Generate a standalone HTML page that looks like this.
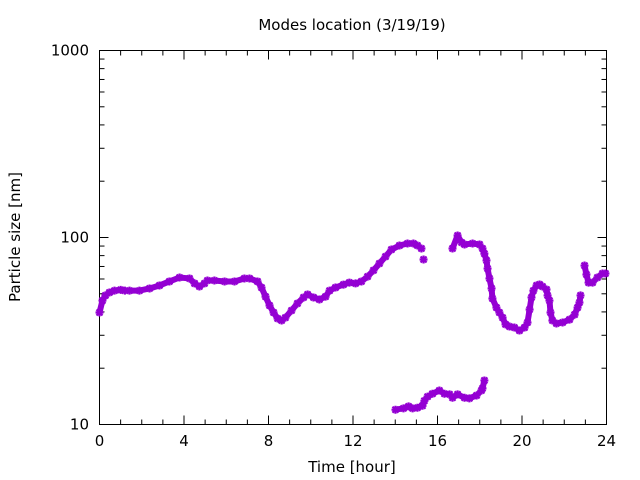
<!DOCTYPE html>
<html><head><meta charset="utf-8"><style>
html,body{margin:0;padding:0;background:#fff;}
svg{display:block;font-family:"DejaVu Sans","Liberation Sans",sans-serif;}
</style></head><body>
<svg id="chart" width="640" height="480" viewBox="0 0 640 480" xmlns="http://www.w3.org/2000/svg">
<rect width="640" height="480" fill="#fff"/>
<text x="352" y="30" font-size="15" text-anchor="middle">Modes location (3/19/19)</text>
<text x="352" y="472" font-size="15" text-anchor="middle">Time [hour]</text>
<text x="20" y="237" font-size="15" text-anchor="middle" transform="rotate(-90 20 237)">Particle size [nm]</text>
<g id="axes"></g>
<g id="marks"></g>
</svg>
<script>
const xTicks = [0,4,8,12,16,20,24];
const yTicks = [10,100,1000];
const seg1Hours = [0,0.14,0.28,0.47,0.71,1.0,1.2,1.42,1.89,2.37,2.84,3.31,3.79,4.26,4.5,4.73,4.97,5.11,5.44,5.92,6.39,6.86,7.1,7.48,7.67,7.86,8.05,8.24,8.43,8.62,8.8,9.09,9.37,9.66,9.85,10.13,10.41,10.7,10.89,11.17,11.55,11.83,12.12,12.4,12.69,12.97,13.25,13.54,13.82,14.2,14.58,14.86,15.05,15.24];
const seg1Sizes = [39.7,46,49,50.8,52,52.5,52,52,52,53.4,55.4,58.2,61.1,60.4,56.8,54.7,56.8,58.9,58.9,58.2,58.2,60.4,60.4,58.2,54,48.3,43.3,39.7,36.9,36,37.3,40.7,44.4,47.8,49.6,47.8,46.6,48.3,52,54,56,57.4,56.8,58.2,61.8,66.7,72.6,79.1,86.2,90.6,92.9,92.9,90.6,87.3];
const loneHours = [15.34];
const loneSizes = [76.3];
const seg2Hours = [16.71,16.95,17.14,17.28,17.66,17.99,18.13,18.22,18.32,18.37,18.46,18.56,18.6,18.79,18.93,19.08,19.22,19.41,19.64,19.88,20.12,20.26,20.36,20.45,20.54,20.69,20.83,20.97,21.16,21.21,21.3,21.35,21.44,21.63,21.92,22.25,22.49,22.63,22.72,22.77,22.96,23.05,23.15,23.34,23.57,23.81,23.95];
const seg2Sizes = [87.3,102.5,94,91.8,92.9,91.8,87.3,82,75.4,68.2,60.4,53.4,47.2,42.2,39.7,37.3,34.3,33.4,33,31.8,33,35.1,41.2,47.8,52,55.4,56.1,54.7,52.7,49,46,39.7,36,34.7,35.1,36.4,38.7,42.2,44.9,49,70.8,63.4,57.4,57.4,61.1,64.2,64.2];
const seg3Hours = [14.01,14.39,14.63,14.82,15.05,15.29,15.38,15.53,15.76,16.09,16.33,16.57,16.71,16.95,17.28,17.51,17.85,18.08,18.13,18.22];
const seg3Sizes = [12.0,12.2,12.5,12.2,12.3,12.6,13.4,14.1,14.6,15.2,14.6,14.5,13.9,14.5,13.9,13.8,14.3,15.2,15.6,17.2];

const X0=99.5, X1=606.5, Y0=424.5, Y1=50.5;
function xs(h){return X0+(h/24)*(X1-X0);}
function ys(v){return Y0-(Math.log10(v)-1)/2*(Y0-Y1);}
const NS="http://www.w3.org/2000/svg";
function mk(tag,attrs,parent){const e=document.createElementNS(NS,tag);for(const k in attrs)e.setAttribute(k,attrs[k]);parent.appendChild(e);return e;}
const axes=document.getElementById('axes');
const frame=mk('rect',{x:X0,y:Y1,width:X1-X0,height:Y0-Y1,fill:'none',stroke:'#000','stroke-width':1},axes);


for(let h=0;h<=24;h++){
  const L=(h%4===0)?9:5;const x=xs(h);
  const t1=mk('line',{x1:x,y1:Y0,x2:x,y2:Y0-L,stroke:'#000'},axes);
  
  
  const t2=mk('line',{x1:x,y1:Y1,x2:x,y2:Y1+L,stroke:'#000'},axes);
  
  
}
xTicks.forEach(h=>{
  const t=mk('text',{x:xs(h),y:446,'font-size':15,'text-anchor':'middle'},axes);t.textContent=String(h);
  
  
});
[10,100].forEach(base=>{for(let m=1;m<=10;m++){const v=base*m;const y=ys(v);const L=(m===1||m===10)?9:5;
  const a=mk('line',{x1:X0,y1:y,x2:X0+L,y2:y,stroke:'#000'},axes);
  
  
  const b=mk('line',{x1:X1,y1:y,x2:X1-L,y2:y,stroke:'#000'},axes);
  
  
}});
yTicks.forEach(v=>{
  const t=mk('text',{x:89,y:ys(v)+5,'font-size':15,'text-anchor':'end'},axes);t.textContent=String(v);
  
  
});
const marks=document.getElementById('marks');
const C='#9400d3';
function drawSeries(hs,vs,name){
  const g=mk('g',{},marks);
  
  
  for(let i=1;i<hs.length;i++){
    const xa=xs(hs[i-1]),ya=ys(vs[i-1]),xb=xs(hs[i]),yb=ys(vs[i]);
    if(Math.hypot(xb-xa,yb-ya)<16){
      const l=mk('line',{x1:xa,y1:ya,x2:xb,y2:yb,stroke:C,'stroke-width':6,'stroke-linecap':'round'},g);
      
      
    }
  }
  for(let i=0;i<hs.length;i++){
    const x=xs(hs[i]),y=ys(vs[i]);
    const p=mk('path',{d:`M${x-4},${y}H${x+4}M${x},${y-4}V${y+4}M${x-3},${y-3}L${x+3},${y+3}M${x-3},${y+3}L${x+3},${y-3}`,stroke:C,'stroke-width':2.2,fill:'none'},g);
    
    
  }
}
drawSeries(seg1Hours,seg1Sizes,'mode-series-1');
drawSeries(loneHours,loneSizes,'mode-series-1-end');
drawSeries(seg2Hours,seg2Sizes,'mode-series-2');
drawSeries(seg3Hours,seg3Sizes,'mode-series-3');
</script>
</body></html>
